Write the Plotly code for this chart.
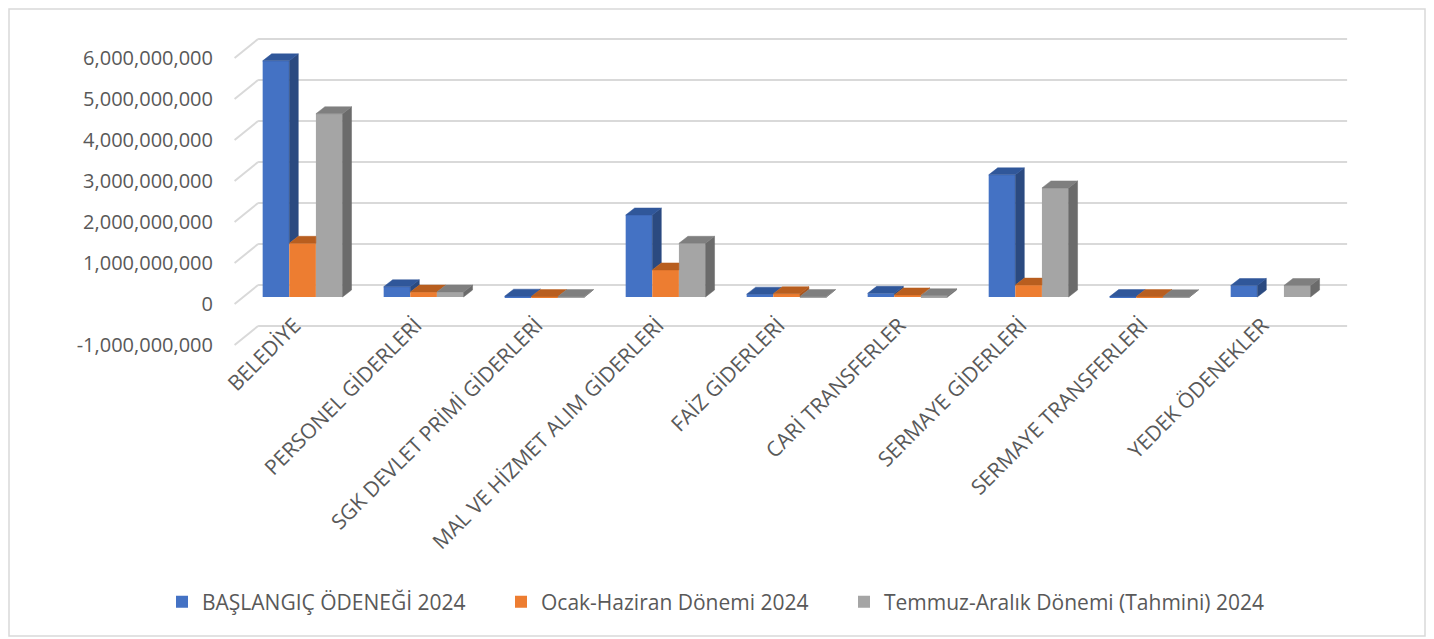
import plotly.graph_objects as go

# ============================================================
# Data
# ============================================================

categories = [
    "BELEDİYE",
    "PERSONEL GİDERLERİ",
    "SGK DEVLET PRİMİ GİDERLERİ",
    "MAL VE HİZMET ALIM GİDERLERİ",
    "FAİZ GİDERLERİ",
    "CARİ TRANSFERLER",
    "SERMAYE GİDERLERİ",
    "SERMAYE TRANSFERLERİ",
    "YEDEK ÖDENEKLER",
]

baslangic_2024 = [5.76e9, 0.25e9, 0.02e9, 2.00e9, 0.07e9, 0.09e9, 2.98e9, 0.01e9, 0.28e9]
ocak_haziran_2024 = [1.31e9, 0.12e9, 0.01e9, 0.66e9, 0.08e9, 0.05e9, 0.29e9, 0.01e9, None]
temmuz_aralik_2024 = [4.47e9, 0.12e9, 0.01e9, 1.31e9, 0.01e9, 0.03e9, 2.66e9, 0.005e9, 0.28e9]

series_names = [
    "BAŞLANGIÇ ÖDENEĞİ 2024",
    "Ocak-Haziran Dönemi 2024",
    "Temmuz-Aralık Dönemi (Tahmini) 2024",
]

tick_values = [-1e9, 0, 1e9, 2e9, 3e9, 4e9, 5e9, 6e9]
tick_labels = [
    "-1,000,000,000",
    "0",
    "1,000,000,000",
    "2,000,000,000",
    "3,000,000,000",
    "4,000,000,000",
    "5,000,000,000",
    "6,000,000,000",
]

# front / side / top face colours per series
front_colors = ["#4472C4", "#ED7D31", "#A5A5A5"]
side_colors = ["#2B4A80", "#A9561E", "#6B6B6B"]
top_colors = ["#30579A", "#B85E1F", "#7F7F7F"]

# ============================================================
# Geometry of the fake 3D look
# (page body adds an 8px offset, so everything is placed 8px up/left)
# ============================================================

W, H = 1434, 639
ML, MT = 222, 28
pw, ph = 1120, 310
MR, MB = W - ML - pw, H - MT - ph
X_RANGE = [-0.6, 8.656]
Y_RANGE = [-1.195e9, 6.366e9]

px_x = pw / (X_RANGE[1] - X_RANGE[0])
px_y = ph / (Y_RANGE[1] - Y_RANGE[0])

BAR_W = 0.22
GROUP_W = 3 * BAR_W
DX = 9 / px_x          # bar depth, x part
DY = 7 / px_y          # bar depth, y part
WX = 16 / px_x         # back wall offset
WY = 12 / px_y
FX = -7.5 / px_x       # front edge offset
FY = -7 / px_y
LABEL_DX = 8 / px_x    # category labels sit a bit left of the group centre

all_series = [baslangic_2024, ocak_haziran_2024, temmuz_aralik_2024]
legend_ids = ["legend", "legend2", "legend3"]
legend_left = [154, 493, 836]   # px in figure

fig = go.Figure()

# front faces as bars
for k, vals in enumerate(all_series):
    fig.add_trace(
        go.Bar(
            x=list(range(len(categories))),
            y=vals,
            name=series_names[k],
            width=BAR_W,
            offset=-GROUP_W / 2 + k * BAR_W,
            marker=dict(color=front_colors[k], line=dict(width=0)),
            legend=legend_ids[k],
        )
    )

# side and top faces
for k, vals in enumerate(all_series):
    nxt = all_series[k + 1] if k + 1 < len(all_series) else None
    sx, sy, tx, ty = [], [], [], []
    for i, v in enumerate(vals):
        if v is None:
            continue
        xl = i - GROUP_W / 2 + k * BAR_W
        xr = xl + BAR_W
        vn = 0 if (nxt is None or nxt[i] is None) else nxt[i]
        if v > vn:
            sx += [xr, xr + DX, xr + DX, xr, xr, None]
            sy += [vn, vn + DY, v + DY, v, vn, None]
        if vn <= v:
            tx += [xl, xr, xr + DX, xl + DX, xl, None]
            ty += [v, v, v + DY, v + DY, v, None]
        else:
            c = min(vn, v + DY)
            tx += [xl, xr, xr, xr + (v + DY - c) / DY * DX, xl + DX, xl, None]
            ty += [v, v, c, v + DY, v + DY, v, None]

    for xs, ys, col in [(sx, sy, side_colors[k]), (tx, ty, top_colors[k])]:
        fig.add_trace(
            go.Scatter(
                x=xs,
                y=ys,
                mode="lines",
                fill="toself",
                fillcolor=col,
                line=dict(color=col, width=0.5),
                showlegend=False,
                hoverinfo="skip",
            )
        )

# back wall gridlines + left diagonals
grid_color = "#D9D9D9"
n = len(categories)
for t in tick_values:
    fig.add_shape(
        type="line", xref="x", yref="y", layer="below",
        x0=-0.5 + WX, x1=n - 0.5 + WX, y0=t + WY, y1=t + WY,
        line=dict(color=grid_color, width=2),
    )
    fig.add_shape(
        type="line", xref="x", yref="y", layer="below",
        x0=-0.5 + FX, x1=-0.5 + WX, y0=t + FY, y1=t + WY,
        line=dict(color=grid_color, width=2),
    )

# chart border
fig.add_shape(
    type="rect", xref="paper", yref="paper",
    x0=(1 - ML) / pw, x1=(1417 - ML) / pw,
    y0=(H - MB - 628) / ph, y1=(H - MB - 1) / ph,
    line=dict(color="#D9D9D9", width=1.5),
)

font_family = "Open Sans"
text_color = "#595959"

legends = {}
for k, lid in enumerate(legend_ids):
    legends[lid] = dict(
        orientation="h",
        x=(legend_left[k] - ML) / pw,
        xanchor="left",
        y=(H - MB - 594) / ph,
        yanchor="middle",
        font=dict(size=21, color=text_color),
        bgcolor="rgba(0,0,0,0)",
        itemclick=False,
    )

fig.update_layout(
    width=W,
    height=H,
    margin=dict(l=ML, r=MR, t=MT, b=MB, autoexpand=False),
    barmode="overlay",
    paper_bgcolor="white",
    plot_bgcolor="white",
    font=dict(family=font_family, color=text_color, size=20),
    xaxis=dict(
        range=X_RANGE,
        tickvals=[i - LABEL_DX for i in range(n)],
        ticktext=categories,
        tickangle=-45,
        showgrid=False,
        zeroline=False,
        showline=False,
        ticks="",
        tickfont=dict(size=21),
        ticklabelstandoff=-38,
    ),
    yaxis=dict(
        range=Y_RANGE,
        tickvals=tick_values,
        ticktext=tick_labels,
        showgrid=False,
        zeroline=False,
        showline=False,
        ticks="",
        tickfont=dict(size=20),
        ticklabelshift=7,
        ticklabelstandoff=16,
    ),
    **legends,
)

fig.write_html("out.html")
